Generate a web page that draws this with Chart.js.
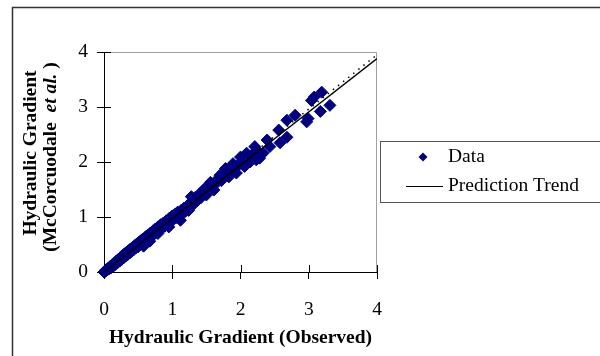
<!DOCTYPE html>
<html>
<head>
<meta charset="utf-8">
<script src="https://cdn.jsdelivr.net/npm/chart.js@4"></script>
<style>
  html, body { margin: 0; padding: 0; background: #fff; }
</style>
</head>
<body>
<canvas id="chart" width="600" height="356"></canvas>
<script>
// observed vs. predicted hydraulic gradient
const obsX = [
  0.00, 0.02, 0.03, 0.05, 0.06, 0.08, 0.09, 0.11, 0.12, 0.14,
  0.15, 0.17, 0.18, 0.20, 0.21, 0.23, 0.24, 0.26, 0.27, 0.29,
  0.30, 0.32, 0.33, 0.35, 0.36, 0.38, 0.39, 0.41, 0.42, 0.44,
  0.45, 0.47, 0.48, 0.50, 0.51, 0.53, 0.54, 0.56, 0.58, 0.57,
  0.59, 0.61, 0.62, 0.64, 0.66, 0.67, 0.68, 0.70, 0.72, 0.73,
  0.75, 0.77, 0.79, 0.79, 0.81, 0.83, 0.85, 0.87, 0.89, 0.91,
  0.93, 0.95, 0.96, 0.98, 1.00, 1.02, 1.04, 1.06, 1.08, 1.10,
  1.12, 1.13, 1.15, 1.17, 1.19, 1.22, 1.24, 1.26, 1.28, 1.30,
  1.32, 1.34, 1.37, 1.40, 1.42, 1.45, 1.48, 1.50, 1.53, 1.56,
  1.58, 1.61, 1.65, 1.68, 1.70, 1.72, 1.76, 1.78, 1.81, 1.83,
  1.86, 1.89, 1.92, 1.94, 1.97, 2.00, 2.03, 2.06, 2.09, 2.14,
  2.17, 2.21, 2.23, 2.24, 2.28, 2.33, 2.39, 2.43, 2.56, 2.58,
  2.68, 2.68, 2.80, 2.97, 2.99, 3.04, 3.08, 3.17, 3.19, 3.31
];
const predY = [
  0.00, 0.01, 0.04, 0.04, 0.07, 0.06, 0.10, 0.08, 0.13, 0.11,
  0.16, 0.14, 0.20, 0.17, 0.23, 0.20, 0.26, 0.23, 0.30, 0.26,
  0.33, 0.29, 0.36, 0.32, 0.39, 0.35, 0.42, 0.38, 0.45, 0.41,
  0.48, 0.44, 0.51, 0.46, 0.54, 0.50, 0.57, 0.52, 0.47, 0.60,
  0.55, 0.64, 0.58, 0.67, 0.61, 0.56, 0.71, 0.65, 0.75, 0.68,
  0.78, 0.72, 0.70, 0.82, 0.76, 0.86, 0.80, 0.89, 0.83, 0.93,
  0.86, 0.82, 0.98, 0.92, 1.02, 0.96, 1.05, 0.99, 1.09, 1.03,
  0.94, 1.12, 1.07, 1.16, 1.10, 1.20, 1.12, 1.25, 1.37, 1.30,
  1.24, 1.36, 1.30, 1.42, 1.35, 1.48, 1.52, 1.40, 1.57, 1.63,
  1.55, 1.49, 1.62, 1.71, 1.76, 1.66, 1.73, 1.88, 1.78, 1.73,
  1.85, 1.97, 1.88, 1.80, 1.95, 2.09, 1.99, 1.92, 2.16, 2.00,
  2.13, 2.28, 2.04, 2.22, 2.07, 2.16, 2.40, 2.28, 2.58, 2.35,
  2.45, 2.76, 2.85, 2.73, 2.79, 3.12, 3.18, 2.92, 3.27, 3.03
];
const trendX = [0, 4];
const trendY = [0, 3.88];
const dotX = [0, 4];
const dotY = [0, 3.95];
const axisTicks = [0, 1, 2, 3, 4];
const axisTickLabels = ['0', '1', '2', '3', '4'];
const seriesNames = ['Data', 'Prediction Trend'];
const xTitle = 'Hydraulic Gradient (Observed)';
const yTitleTop = 'Hydraulic Gradient';
const yTitleBottom = ['(McCorcuodale  ', 'et al.', ' )'];

const FAMILY = "'Liberation Serif', 'Times New Roman', serif";
const NAVY = '#000080';

const zip = (xs, ys) => xs.map((x, i) => ({ x: x, y: ys[i] }));

const frame = {
  id: 'frame',
  beforeDraw: function(chart) {
    const ctx = chart.ctx;
    ctx.save();
    ctx.strokeStyle = '#333';
    ctx.lineWidth = 1.5;
    ctx.beginPath();
    ctx.moveTo(12.5, 356);
    ctx.lineTo(12.5, 7.5);
    ctx.lineTo(600, 7.5);
    ctx.stroke();
    ctx.restore();
  },
  beforeDatasetsDraw: function(chart) {
    const ctx = chart.ctx;
    const a = chart.chartArea;
    const xs = chart.scales.x, ys = chart.scales.y;
    ctx.save();
    // light outline on top / right of plot area
    ctx.strokeStyle = '#a0a0a0';
    ctx.lineWidth = 1;
    ctx.beginPath();
    ctx.moveTo(a.left, a.top + 0.5);
    ctx.lineTo(a.right - 0.5, a.top + 0.5);
    ctx.lineTo(a.right - 0.5, a.bottom);
    ctx.stroke();
    // ticks crossing into the plot
    ctx.strokeStyle = '#000';
    ctx.beginPath();
    axisTicks.forEach(function(v) {
      const px = Math.round(xs.getPixelForValue(v)) + 0.5;
      ctx.moveTo(px, a.bottom);
      ctx.lineTo(px, a.bottom - 7);
      const py = Math.round(ys.getPixelForValue(v)) + 0.5;
      ctx.moveTo(a.left, py);
      ctx.lineTo(a.left + 7, py);
    });
    ctx.stroke();
    ctx.restore();
  },
  afterDraw: function(chart) {
    const ctx = chart.ctx;
    const bold = 'bold 19.5px ' + FAMILY;
    const boldItalic = 'italic bold 19.5px ' + FAMILY;
    ctx.save();
    ctx.fillStyle = '#000';
    ctx.textBaseline = 'alphabetic';

    // y title, two lines, rotated
    ctx.save();
    ctx.translate(36, 153);
    ctx.rotate(-Math.PI / 2);
    ctx.font = bold;
    ctx.textAlign = 'center';
    ctx.fillText(yTitleTop, 0, 0);
    ctx.restore();

    ctx.save();
    ctx.translate(56, 157);
    ctx.rotate(-Math.PI / 2);
    ctx.textAlign = 'left';
    const fonts = [bold, boldItalic, bold];
    let total = 0;
    const widths = yTitleBottom.map(function(s, i) {
      ctx.font = fonts[i];
      const w = ctx.measureText(s).width;
      total += w;
      return w;
    });
    let pos = -total / 2;
    yTitleBottom.forEach(function(s, i) {
      ctx.font = fonts[i];
      ctx.fillText(s, pos, 0);
      pos += widths[i];
    });
    ctx.restore();

    // legend
    ctx.strokeStyle = '#555';
    ctx.lineWidth = 1;
    ctx.strokeRect(380.5, 141.5, 240, 61);
    ctx.fillStyle = NAVY;
    ctx.beginPath();
    ctx.moveTo(423, 152.5);
    ctx.lineTo(427.5, 157);
    ctx.lineTo(423, 161.5);
    ctx.lineTo(418.5, 157);
    ctx.closePath();
    ctx.fill();
    ctx.strokeStyle = '#000';
    ctx.beginPath();
    ctx.moveTo(406, 186.5);
    ctx.lineTo(443, 186.5);
    ctx.stroke();
    ctx.fillStyle = '#000';
    ctx.font = '19.5px ' + FAMILY;
    ctx.textBaseline = 'middle';
    ctx.fillText(seriesNames[0], 448, 157);
    ctx.fillText(seriesNames[1], 448, 186);
    ctx.restore();
  }
};

const tickFont = { family: FAMILY, size: 19.5 };

new Chart('chart', {
  type: 'scatter',
  data: {
    datasets: [{
      label: seriesNames[0],
      data: zip(obsX, predY),
      pointStyle: 'rectRot',
      pointRadius: 6,
      backgroundColor: NAVY,
      borderColor: NAVY,
      borderWidth: 1,
      clip: false,
      order: 2
    }, {
      label: seriesNames[1],
      type: 'line',
      data: zip(trendX, trendY),
      borderColor: '#000',
      borderWidth: 1.3,
      pointRadius: 0,
      fill: false,
      order: 1
    }, {
      label: '',
      type: 'line',
      data: zip(dotX, dotY),
      borderColor: '#000',
      borderWidth: 1.5,
      borderDash: [1.5, 5],
      pointRadius: 0,
      fill: false,
      order: 0
    }]
  },
  options: {
    responsive: false,
    animation: false,
    layout: { padding: { top: 52, right: 223, left: 0, bottom: 0 } },
    plugins: {
      legend: { display: false },
      tooltip: { enabled: false }
    },
    scales: {
      x: {
        type: 'linear',
        min: 0,
        max: 4,
        afterBuildTicks: function(s) { s.ticks = axisTicks.map(v => ({ value: v })); },
        afterFit: function(s) { s.height = 84; },
        ticks: {
          font: tickFont,
          color: '#000',
          padding: 19,
          maxRotation: 0,
          callback: v => axisTickLabels[axisTicks.indexOf(v)]
        },
        grid: { drawOnChartArea: false, tickLength: 7, color: '#000' },
        border: { color: '#000' },
        title: {
          display: true,
          text: xTitle,
          color: '#000',
          font: { family: FAMILY, size: 19.5, weight: 'bold' },
          padding: { top: 0, bottom: 6 }
        }
      },
      y: {
        type: 'linear',
        min: 0,
        max: 4,
        afterBuildTicks: function(s) { s.ticks = axisTicks.map(v => ({ value: v })); },
        afterFit: function(s) { s.width = 104; },
        ticks: {
          font: tickFont,
          color: '#000',
          padding: 9,
          callback: v => axisTickLabels[axisTicks.indexOf(v)]
        },
        grid: { drawOnChartArea: false, tickLength: 7, color: '#000' },
        border: { color: '#000' }
      }
    }
  },
  plugins: [frame]
});
</script>
</body>
</html>
